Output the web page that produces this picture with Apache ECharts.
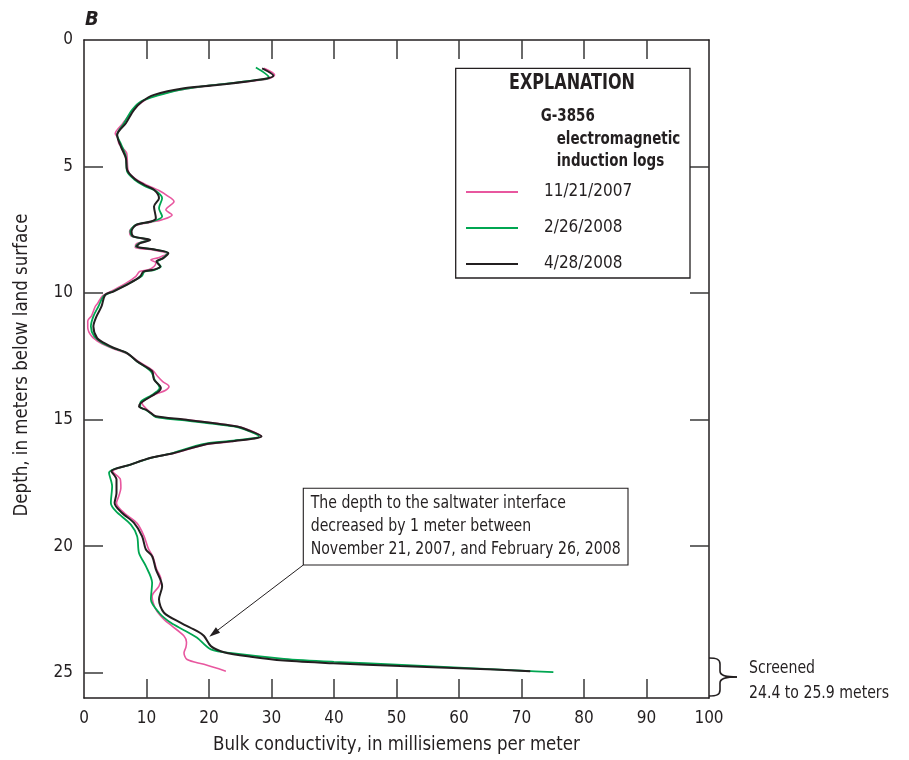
<!DOCTYPE html>
<html>
<head>
<meta charset="utf-8">
<script src="https://cdn.jsdelivr.net/npm/echarts@6/dist/echarts.min.js"></script>
<style>html,body{margin:0;padding:0;background:#fff}#c{width:909px;height:760px}</style>
</head>
<body>
<div id="c"></div>
<script>
// ---- data: [conductivity (mS/m), depth (m)] ----
const seriesNames = ['11/21/2007', '2/26/2008', '4/28/2008'];
const xTicks = [0, 10, 20, 30, 40, 50, 60, 70, 80, 90, 100];
const yTicks = [0, 5, 10, 15, 20, 25];

const log20071121 = [
[28.8,1.12],[30.5,1.38],[29.2,1.55],[20.9,1.78],[15.6,1.96],[11.2,2.2],[9.3,2.45],[7.8,2.8],[6.2,3.3],[5.0,3.7],[5.4,3.85],[5.6,4.1],[6.8,4.45],[6.9,4.65],[7.1,5.2],[8.3,5.5],[10.2,5.75],[12.0,5.95],[13.3,6.15],[14.4,6.38],[13.1,6.71],[14.1,6.91],[12.5,7.1],[10.7,7.2],[8.2,7.33],[7.3,7.57],[7.6,7.76],[10.2,7.9],[8.4,8.05],[8.2,8.2],[10.6,8.28],[13.3,8.45],[11.9,8.6],[10.7,8.69],[11.5,8.8],[11.2,8.95],[10.3,9.08],[8.9,9.15],[8.3,9.34],[6.8,9.6],[4.6,9.9],[3.0,10.1],[2.2,10.4],[1.8,10.53],[1.2,10.9],[0.6,11.1],[0.6,11.35],[1.2,11.7],[2.6,11.97],[4.4,12.17],[6.9,12.4],[8.7,12.7],[11.0,13.05],[11.8,13.3],[12.6,13.5],[13.6,13.69],[13.0,13.85],[11.6,13.98],[9.9,14.2],[9.3,14.35],[9.9,14.55],[10.8,14.74],[11.6,14.9],[16.2,15.0],[24.7,15.27],[26.3,15.4],[28.4,15.66],[23.7,15.86],[19.4,15.99],[14.6,16.32],[10.9,16.5],[7.5,16.78],[4.6,17.05],[5.8,17.35],[5.9,17.7],[5.6,18.0],[5.2,18.3],[6.5,18.7],[8.5,19.1],[9.6,19.6],[10.3,20.1],[11.0,20.4],[11.6,20.9],[12.3,21.3],[12.0,21.58],[10.9,21.98],[11.5,22.5],[12.8,22.9],[14.1,23.16],[16.0,23.55],[16.4,23.8],[16.3,24.0],[16.0,24.21],[16.5,24.48],[19.2,24.67],[22.7,24.94]
];

const log20080226 = [
[27.5,1.09],[29.6,1.49],[28.6,1.56],[20.7,1.78],[15.6,1.96],[11.7,2.2],[9.1,2.43],[7.7,2.76],[6.4,3.29],[5.3,3.75],[5.9,4.1],[6.7,4.6],[6.9,5.2],[8.0,5.5],[9.6,5.76],[11.4,5.95],[12.5,6.25],[12.0,6.65],[12.5,6.97],[10.9,7.17],[8.3,7.3],[7.4,7.57],[7.8,7.76],[10.4,7.9],[8.8,8.03],[8.3,8.16],[10.7,8.26],[13.4,8.42],[12.6,8.62],[11.7,8.77],[12.3,8.95],[11.3,9.08],[9.7,9.15],[9.2,9.34],[7.3,9.6],[4.6,9.94],[3.2,10.1],[2.3,10.53],[1.5,10.92],[1.1,11.32],[1.6,11.7],[2.8,11.95],[4.6,12.17],[6.8,12.37],[8.5,12.7],[10.7,13.09],[11.3,13.42],[12.1,13.75],[11.6,13.9],[10.8,14.04],[9.0,14.34],[9.0,14.5],[10.0,14.63],[10.6,14.74],[11.5,14.9],[15.7,15.02],[24.0,15.27],[25.8,15.4],[28.0,15.66],[23.3,15.84],[19.0,15.97],[14.2,16.32],[10.4,16.53],[7.2,16.8],[4.0,17.1],[4.5,17.63],[4.3,18.29],[5.1,18.62],[7.5,19.15],[8.5,19.61],[8.8,20.27],[9.9,20.79],[10.9,21.45],[10.7,22.1],[12.0,22.63],[13.9,23.03],[16.0,23.32],[18.1,23.62],[20.3,24.08],[24.0,24.24],[32.0,24.45],[40.0,24.57],[50.0,24.68],[60.0,24.8],[70.0,24.92],[75.1,24.98]
];

const log20080428 = [
[28.5,1.12],[30.3,1.41],[28.8,1.54],[21.3,1.78],[16.0,1.91],[11.2,2.17],[9.3,2.43],[8.0,2.76],[6.7,3.29],[5.3,3.75],[5.9,4.21],[6.7,4.67],[6.9,5.13],[8.0,5.46],[9.6,5.72],[11.2,5.92],[12.0,6.25],[11.2,6.58],[11.5,7.04],[10.7,7.17],[8.4,7.3],[7.6,7.57],[7.9,7.76],[10.6,7.9],[9.0,8.03],[8.4,8.16],[10.8,8.26],[13.5,8.42],[12.7,8.62],[11.6,8.75],[12.2,8.95],[11.1,9.08],[9.5,9.15],[9.0,9.34],[7.4,9.6],[4.7,9.94],[3.4,10.07],[2.8,10.53],[2.0,10.92],[1.5,11.32],[2.1,11.78],[3.2,11.97],[4.8,12.17],[6.9,12.37],[8.5,12.7],[10.9,13.09],[11.2,13.42],[12.3,13.75],[12.0,13.88],[11.2,14.01],[9.1,14.34],[8.8,14.48],[9.9,14.61],[10.7,14.74],[11.5,14.87],[16.0,15.0],[24.5,15.27],[26.1,15.4],[28.4,15.66],[23.5,15.86],[19.2,15.99],[14.4,16.32],[10.7,16.51],[7.4,16.78],[4.4,17.04],[5.2,17.37],[5.2,17.9],[4.9,18.29],[6.1,18.69],[8.0,19.08],[9.3,19.61],[9.9,20.13],[10.9,20.4],[11.5,20.92],[12.5,21.58],[12.0,22.1],[12.8,22.63],[15.5,23.03],[18.1,23.36],[19.2,23.55],[20.3,23.95],[22.4,24.19],[26.7,24.37],[32.0,24.52],[39.9,24.63],[50.6,24.74],[61.2,24.83],[71.4,24.94]
];

const colors = ['#e8579f', '#00a651', '#231f20'];
const F = "'DejaVu Sans Condensed','DejaVu Sans',sans-serif";
const TXT = '#231f20';

const chart = echarts.init(document.getElementById('c'), null, {renderer: 'canvas'});

const axisLine = {show: true, onZero: false, lineStyle: {color: '#231f20', width: 1.5}};
const tickStyle = {color: '#3a3a3a', width: 1.5};

function txt(x, y, s, size, opts) {
  opts = opts || {};
  return {type: 'text', x: x, y: y, z: 6, scaleX: opts.sx || 1, scaleY: opts.sy || 1, rotation: opts.rot || 0,
    style: {text: s, fontFamily: F, fontSize: size, fontWeight: opts.bold ? 'bold' : 'normal',
      fontStyle: opts.italic ? 'italic' : 'normal', fill: TXT, align: opts.align || 'left', verticalAlign: 'middle'}};
}

const option = {
  backgroundColor: '#fff',
  animation: false,
  grid: {left: 84, top: 40, width: 625, height: 658},
  xAxis: [
    {type: 'value', position: 'bottom', min: 0, max: 100, interval: 10,
     axisLine: axisLine, splitLine: {show: false},
     axisTick: {show: true, inside: true, length: 19, lineStyle: tickStyle, customValues: xTicks.slice(1, -1)},
     axisLabel: {show: true, customValues: xTicks, margin: 12, fontFamily: F, fontSize: 17, color: TXT}},
    {type: 'value', position: 'top', min: 0, max: 100, interval: 10,
     axisLine: axisLine, splitLine: {show: false},
     axisTick: {show: true, inside: true, length: 19, lineStyle: tickStyle, customValues: xTicks.slice(1, -1)},
     axisLabel: {show: false}}
  ],
  yAxis: [
    {type: 'value', position: 'left', inverse: true, min: 0, max: 26, interval: 5,
     axisLine: axisLine, splitLine: {show: false},
     axisTick: {show: true, inside: true, length: 19, lineStyle: tickStyle, customValues: yTicks.slice(1)},
     axisLabel: {show: true, customValues: yTicks, margin: 11, fontFamily: F, fontSize: 17, color: TXT}},
    {type: 'value', position: 'right', inverse: true, min: 0, max: 26, interval: 5,
     axisLine: axisLine, splitLine: {show: false},
     axisTick: {show: true, inside: true, length: 19, lineStyle: tickStyle, customValues: yTicks.slice(1, -1)},
     axisLabel: {show: false}}
  ],
  legend: {
    show: true, orient: 'vertical', left: 461, top: 177, z: 10,
    itemWidth: 52, itemHeight: 2, itemGap: 16, icon: 'rect',
    data: seriesNames,
    textStyle: {fontFamily: F, fontSize: 17, color: TXT, lineHeight: 20, padding: [0, 0, 0, 21]},
    selectedMode: false
  },
  series: [
    {name: seriesNames[0], type: 'line', data: log20071121, showSymbol: false, symbol: 'none', smooth: 0.3,
     lineStyle: {color: colors[0], width: 1.6}, itemStyle: {color: colors[0]}, z: 2},
    {name: seriesNames[1], type: 'line', data: log20080226, showSymbol: false, symbol: 'none', smooth: 0.3,
     lineStyle: {color: colors[1], width: 1.8}, itemStyle: {color: colors[1]}, z: 3},
    {name: seriesNames[2], type: 'line', data: log20080428, showSymbol: false, symbol: 'none', smooth: 0.3,
     lineStyle: {color: colors[2], width: 2}, itemStyle: {color: colors[2]}, z: 4}
  ],
  graphic: [
    txt(85, 20, 'B', 20, {bold: true, italic: true}),
    txt(396.5, 745, 'Bulk conductivity, in millisiemens per meter', 20, {align: 'center', sx: 0.925}),
    txt(22, 365, 'Depth, in meters below land surface', 20, {align: 'center', sx: 0.925, rot: Math.PI / 2}),
    // explanation box
    {type: 'rect', shape: {x: 455.7, y: 68.3, width: 234.3, height: 209.7}, style: {fill: '#fff', stroke: '#231f20', lineWidth: 1.3}, z: 5},
    txt(572, 83, 'EXPLANATION', 22, {bold: true, align: 'center', sx: 0.81}),
    txt(540.7, 117, 'G-3856', 17, {bold: true, sx: 0.88}),
    txt(556.7, 139.5, 'electromagnetic', 17, {bold: true, sx: 0.88}),
    txt(556.7, 162, 'induction logs', 17, {bold: true, sx: 0.88}),
    // annotation
    {type: 'rect', shape: {x: 303.3, y: 488.3, width: 324.7, height: 76.7}, style: {fill: '#fff', stroke: '#231f20', lineWidth: 1.1}, z: 5},
    txt(310.7, 503.5, 'The depth to the saltwater interface', 18, {sx: 0.87}),
    txt(310.7, 526.5, 'decreased by 1 meter between', 18, {sx: 0.87}),
    txt(310.7, 549, 'November 21, 2007, and February 26, 2008', 18, {sx: 0.87}),
    {type: 'line', shape: {x1: 303.3, y1: 565, x2: 216, y2: 631.5}, style: {stroke: '#231f20', lineWidth: 1}, z: 6},
    {type: 'polygon', shape: {points: [[209.3, 636.7], [220.1, 632.8], [215.9, 627.2]]}, style: {fill: '#231f20'}, z: 6},
    // screened bracket
    {type: 'bezierCurve', z: 6, shape: {x1: 709, y1: 658, cpx1: 716, cpy1: 658, cpx2: 720, cpy2: 659, x2: 720, y2: 664}, style: {fill: null, stroke: '#231f20', lineWidth: 1.6}},
    {type: 'line', z: 6, shape: {x1: 720, y1: 664, x2: 720, y2: 671}, style: {stroke: '#231f20', lineWidth: 1.6}},
    {type: 'bezierCurve', z: 6, shape: {x1: 720, y1: 671, cpx1: 720, cpy1: 675, cpx2: 724, cpy2: 677, x2: 737, y2: 677}, style: {fill: null, stroke: '#231f20', lineWidth: 1.6}},
    {type: 'bezierCurve', z: 6, shape: {x1: 737, y1: 677, cpx1: 724, cpy1: 677, cpx2: 720, cpy2: 679, x2: 720, y2: 683}, style: {fill: null, stroke: '#231f20', lineWidth: 1.6}},
    {type: 'line', z: 6, shape: {x1: 720, y1: 683, x2: 720, y2: 690}, style: {stroke: '#231f20', lineWidth: 1.6}},
    {type: 'bezierCurve', z: 6, shape: {x1: 720, y1: 690, cpx1: 720, cpy1: 695, cpx2: 716, cpy2: 696, x2: 709, y2: 696}, style: {fill: null, stroke: '#231f20', lineWidth: 1.6}},
    txt(749, 668, 'Screened', 18, {sx: 0.87}),
    txt(749, 693, '24.4 to 25.9 meters', 18, {sx: 0.87})
  ]
};
chart.setOption(option);
</script>
</body>
</html>
